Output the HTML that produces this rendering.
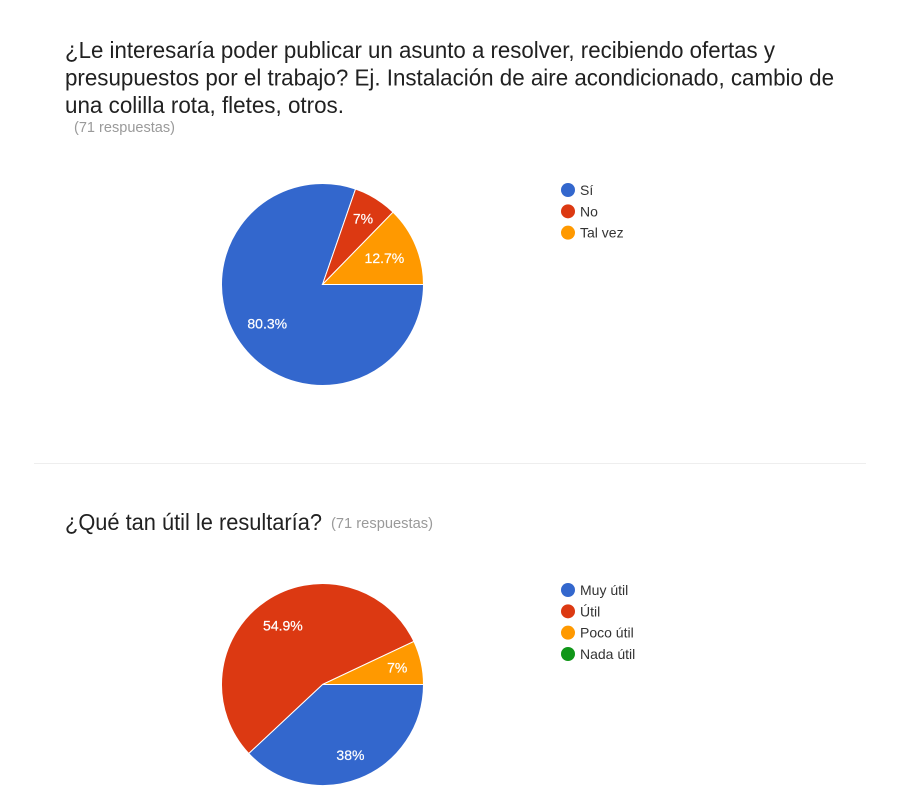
<!DOCTYPE html>
<html lang="es">
<head>
<meta charset="utf-8">
<title>Resultados de la encuesta</title>
<style>
  html, body { margin: 0; padding: 0; background: #fff; }
  svg { display: block; font-family: "Liberation Sans", Arial, sans-serif; }
  .title { font-size: 23px; fill: #212121; }
  .sub { font-size: 14.5px; fill: #9a9a9a; }
  .legend-text { font-size: 14px; fill: #333; }
  .pct { font-size: 14px; fill: #fff; text-anchor: middle; stroke: #fff; stroke-width: 0.2px; }
</style>
</head>
<body>
<svg id="page" width="900" height="800" viewBox="0 0 900 800" xmlns="http://www.w3.org/2000/svg">
  <rect width="900" height="800" fill="#fff"/>
  <g>
    <text class="title" x="65" y="58" textLength="710" lengthAdjust="spacingAndGlyphs">¿Le interesaría poder publicar un asunto a resolver, recibiendo ofertas y</text>
    <text class="title" x="65" y="85.5" textLength="769" lengthAdjust="spacingAndGlyphs">presupuestos por el trabajo? Ej. Instalación de aire acondicionado, cambio de</text>
    <text class="title" x="65" y="113" textLength="279" lengthAdjust="spacingAndGlyphs">una colilla rota, fletes, otros.</text>
  </g>
  <text class="sub" x="74" y="132" textLength="101" lengthAdjust="spacingAndGlyphs">(71 respuestas)</text>
  <g id="pie-1"></g>
  <g id="legend-1"></g>
  <rect x="34" y="463" width="832" height="1" fill="#eeeeee"/>
  <text class="title" x="65" y="530" textLength="257" lengthAdjust="spacingAndGlyphs">¿Qué tan útil le resultaría?</text>
  <text class="sub" x="331" y="528" textLength="102" lengthAdjust="spacingAndGlyphs">(71 respuestas)</text>
  <g id="pie-2"></g>
  <g id="legend-2"></g>
</svg>
<script>
const categoriesOne = ["Sí", "No", "Tal vez"];
const percentagesOne = [80.3, 7, 12.7];
const categoriesTwo = ["Muy útil", "Útil", "Poco útil", "Nada útil"];
const percentagesTwo = [38, 54.9, 7, 0];
const palette = ["#3367cd", "#dc3912", "#ff9900", "#109618"];

const SVG_NS = "http://www.w3.org/2000/svg";
const RADIUS = 101;
const LABEL_REACH = 88;
const LABEL_HEIGHT = 13;
const START_ANGLE = 90;

function angleScale(value, total) {
  return (value / total) * 360;
}

function polar(cx, cy, r, deg) {
  const a = deg * Math.PI / 180;
  return [cx + r * Math.sin(a), cy - r * Math.cos(a)];
}

function labelDistance(midDeg, width) {
  const a = midDeg * Math.PI / 180;
  const b = Math.abs(Math.sin(a)) * width / 2 + Math.abs(Math.cos(a)) * LABEL_HEIGHT / 2;
  const c = (width * width + LABEL_HEIGHT * LABEL_HEIGHT) / 4 - LABEL_REACH * LABEL_REACH;
  return -b + Math.sqrt(b * b - c);
}

function drawPie(groupId, values, cx, cy) {
  const group = document.getElementById(groupId);
  const total = values.reduce(function (s, v) { return s + v; }, 0);
  let angle = START_ANGLE;
  const labelLayer = [];
  values.forEach(function (value, i) {
    if (value <= 0) return;
    const sweep = angleScale(value, total);
    const p0 = polar(cx, cy, RADIUS, angle);
    const p1 = polar(cx, cy, RADIUS, angle + sweep);
    const path = document.createElementNS(SVG_NS, "path");
    
    
    path.setAttribute("d", "M" + cx + " " + cy + "L" + p0[0] + " " + p0[1] +
      "A" + RADIUS + " " + RADIUS + " 0 " + (sweep > 180 ? 1 : 0) + " 1 " + p1[0] + " " + p1[1] + "Z");
    path.setAttribute("fill", palette[i]);
    path.setAttribute("stroke", "#fff");
    path.setAttribute("stroke-width", "1");
    group.appendChild(path);
    labelLayer.push({ mid: angle + sweep / 2, value: value });
    angle += sweep;
  });
  labelLayer.forEach(function (item) {
    const text = document.createElementNS(SVG_NS, "text");
    
    
    text.setAttribute("class", "pct");
    text.textContent = item.value + "%";
    group.appendChild(text);
    const width = text.getComputedTextLength();
    const pos = polar(cx, cy, labelDistance(item.mid, width), item.mid);
    text.setAttribute("x", pos[0]);
    text.setAttribute("y", pos[1] + 4.5);
  });
}

function drawLegend(groupId, names, x, y) {
  const group = document.getElementById(groupId);
  names.forEach(function (name, i) {
    const rowY = y + i * 21.33;
    const dot = document.createElementNS(SVG_NS, "circle");
    
    
    dot.setAttribute("cx", x);
    dot.setAttribute("cy", rowY);
    dot.setAttribute("r", "7");
    dot.setAttribute("fill", palette[i]);
    group.appendChild(dot);
    const label = document.createElementNS(SVG_NS, "text");
    
    
    label.setAttribute("class", "legend-text");
    label.setAttribute("x", x + 12);
    label.setAttribute("y", rowY + 5);
    label.textContent = name;
    group.appendChild(label);
  });
}

drawPie("pie-1", percentagesOne, 322.5, 284.5);
drawLegend("legend-1", categoriesOne, 568, 190);
drawPie("pie-2", percentagesTwo, 322.5, 684.5);
drawLegend("legend-2", categoriesTwo, 568, 590);
</script>
</body>
</html>
